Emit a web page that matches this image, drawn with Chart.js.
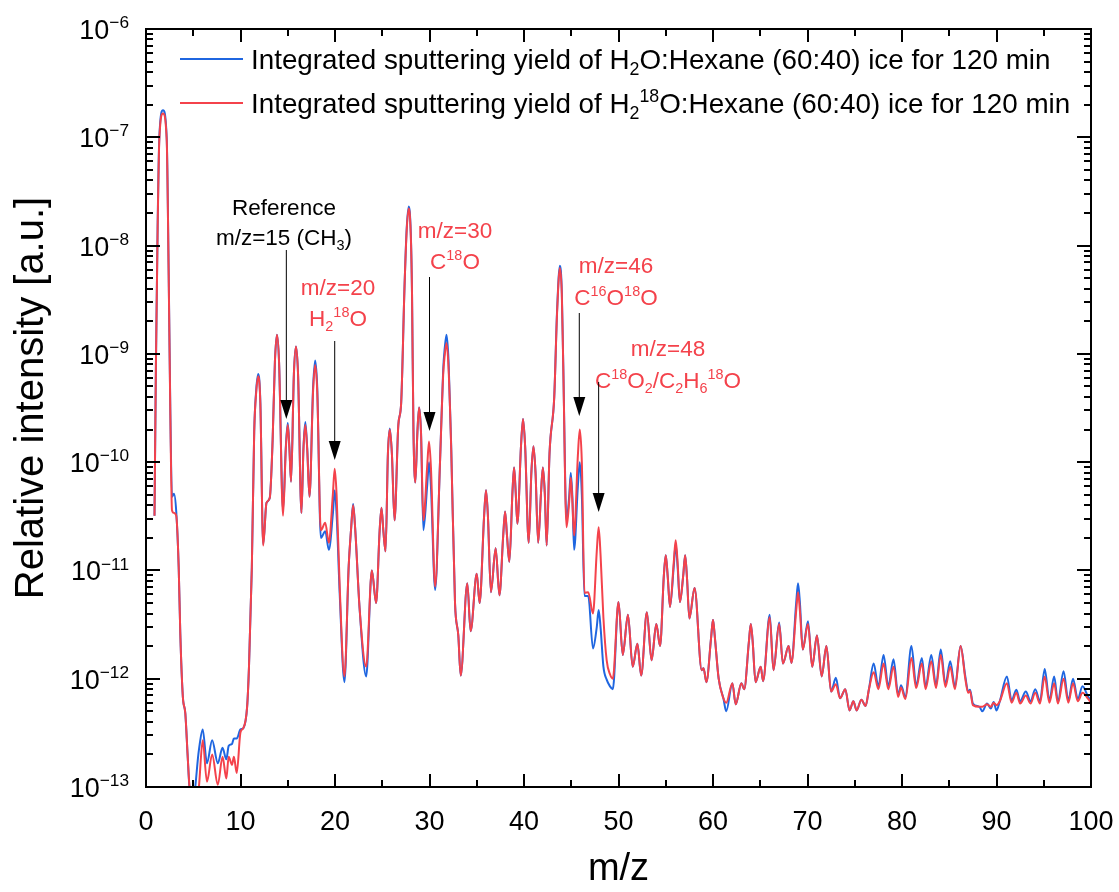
<!DOCTYPE html>
<html><head><meta charset="utf-8">
<script src="https://cdn.jsdelivr.net/npm/chart.js@4.4.1/dist/chart.umd.min.js"></script>
<style>html,body{margin:0;padding:0;background:#fff}canvas{display:block}</style>
</head><body>
<canvas id="c" width="1119" height="892"></canvas>
<script>
// m/z positions (shared by both spectra)
const mz = [
 0.9,1.05,1.23,1.41,1.8,2.19,2.4,2.57,2.75,2.96,
 3.2,3.46,3.63,3.9,4.16,4.4,4.6,5.0,5.6,6.0,
 6.45,7.0,7.6,8.1,8.5,8.75,9.1,9.3,9.6,10.0,
 10.3,10.7,10.9,11.2,11.45,11.66,11.88,12.1,12.4,12.75,
 13.1,13.4,13.64,13.86,14.08,14.5,14.8,15.0,15.17,15.35,
 15.65,15.87,16.09,16.45,16.66,16.86,17.06,17.3,17.68,17.9,
 18.12,18.5,18.97,19.35,19.77,19.97,20.17,20.5,21.0,21.45,
 21.7,21.92,22.14,22.6,23.3,23.9,24.35,24.72,24.92,25.12,
 25.35,25.6,25.8,26.02,26.3,26.7,27.0,27.35,27.58,27.8,
 28.02,28.15,28.3,28.5,28.72,28.9,29.1,29.35,29.75,29.95,
 30.15,30.6,31.1,31.45,31.6,31.8,32.02,32.3,32.7,33.05,
 33.3,34.0,34.35,35.0,35.3,35.78,35.98,36.18,36.5,37.0,
 37.4,37.8,38.0,38.2,38.45,38.78,38.95,39.12,39.3,39.68,
 39.9,40.12,40.5,40.78,41.0,41.22,41.5,41.8,42.0,42.2,
 42.4,42.7,43.2,43.5,43.8,44.0,44.15,44.5,44.78,44.95,
 45.12,45.3,45.7,45.9,46.12,46.4,46.8,47.3,47.7,47.9,
 48.1,48.4,48.75,49.1,49.4,50.0,50.45,51.0,51.5,52.0,
 52.4,53.0,53.5,54.0,54.4,54.8,55.0,55.2,55.45,55.85,
 56.05,56.25,56.5,56.85,57.05,57.25,57.5,58.05,58.8,59.0,
 59.3,59.8,60.0,60.2,60.6,61.1,61.4,62.05,62.4,63.0,
 63.3,63.8,64.0,64.2,64.5,65.05,65.3,66.0,66.4,67.0,
 67.4,68.0,68.3,68.8,69.0,69.2,69.5,70.05,70.5,71.0,
 71.5,72.0,72.5,73.0,73.45,74.0,74.45,74.85,75.2,75.7,
 76.15,76.5,77.0,77.5,78.05,78.55,79.1,79.6,79.9,80.35,
 81.0,81.5,82.1,82.5,83.1,83.6,84.1,84.6,85.1,85.6,
 86.2,86.7,87.0,87.2,87.5,88.2,88.5,89.0,89.4,89.7,
 90.0,90.35,91.1,91.6,92.1,92.5,93.1,93.6,94.1,94.6,
 95.1,95.6,96.1,96.5,97.1,97.6,98.1,98.6,99.1,99.7,
 100
];
// H2O:Hexane (60:40) ice, blue
const yieldH2O = [
 3.2e-11,8e-10,1.5e-8,1.0e-7,1.78e-7,1.0e-7,5.6e-9,3.2e-10,4.8e-11,5.1e-11,
 3.5e-11,1.07e-11,2.6e-12,6.8e-13,4.8e-13,2.0e-13,1.0e-13,8e-14,2.2e-13,3.4e-13,
 1.66e-13,2.7e-13,1.66e-13,2.3e-13,1.8e-13,2.4e-13,2.5e-13,2.8e-13,2.8e-13,3.4e-13,
 3.5e-13,5.5e-13,1.3e-12,1.07e-11,1.9e-10,4.6e-10,6.5e-10,3.6e-10,1.75e-11,4.2e-11,
 4.7e-11,1.6e-10,8.4e-10,1.5e-9,8.4e-10,3.6e-11,1.4e-10,2.3e-10,1.4e-10,6.6e-11,
 6.5e-10,1.17e-9,6.5e-10,3.4e-11,1.35e-10,2.35e-10,1.35e-10,4.8e-11,4.9e-10,8.7e-10,
 4.9e-10,2.0e-11,2.3e-11,1.55e-11,3.3e-11,5.5e-11,3.3e-11,6e-12,9.3e-13,1.1e-11,
 2.4e-11,4.1e-11,2.4e-11,4.5e-12,1.05e-12,1.0e-11,5e-12,2.3e-11,3.8e-11,2.3e-11,
 1.5e-11,1.2e-10,2.05e-10,1.2e-10,2.9e-11,2.2e-10,3.5e-10,4e-9,1.4e-8,2.3e-8,
 1.3e-8,3.6e-9,2e-10,6.5e-11,1.9e-10,3.2e-10,1.9e-10,2.35e-11,6e-11,1.0e-10,
 6e-11,6.6e-12,9.3e-11,7.2e-10,1.1e-9,1.5e-9,8.5e-10,1.35e-10,5e-12,2.5e-12,
 1.07e-12,7.6e-12,2.75e-12,9.3e-12,5e-12,3.2e-11,5.5e-11,3.2e-11,6.3e-12,1.6e-11,
 5.9e-12,2.1e-11,3.5e-11,2.1e-11,1.2e-11,5.3e-11,8.9e-11,5.3e-11,2.7e-11,1.4e-10,
 2.5e-10,1.4e-10,1.8e-11,8e-11,1.4e-10,8e-11,1.8e-11,5.2e-11,8.9e-11,5.2e-11,
 1.7e-11,1.2e-10,4e-10,2.5e-9,6.5e-9,3.8e-9,8.3e-10,2.9e-11,4.8e-11,8e-11,
 4.8e-11,1.55e-11,6e-11,1.0e-10,5e-11,5.8e-12,5.8e-12,1.9e-12,3e-12,4.3e-12,
 3e-12,1.3e-12,9.8e-13,8.5e-13,8e-13,5.1e-12,1.66e-12,3.9e-12,1.29e-12,2.1e-12,
 1.07e-12,4.1e-12,1.48e-12,3.2e-12,2.0e-12,9e-12,1.38e-11,9e-12,4.6e-12,1.1e-11,
 1.75e-11,1.1e-11,5.1e-12,9e-12,1.38e-11,8.5e-12,3.6e-12,6.9e-12,1.2e-12,1.25e-12,
 9.3e-13,2.4e-12,3.5e-12,2.4e-12,1.0e-12,6.6e-13,5e-13,9.1e-13,5.8e-13,9.1e-13,
 8e-13,2.2e-12,3.2e-12,2.2e-12,9.3e-13,1.29e-12,9.5e-13,3.9e-12,1.2e-12,3.3e-12,
 1.38e-12,2.0e-12,1.4e-12,5e-12,7.6e-12,5e-12,1.86e-12,3.4e-12,1.29e-12,2.5e-12,
 1.05e-12,2.0e-12,7.6e-13,1.02e-12,6.6e-13,8e-13,5.1e-13,6.2e-13,5.1e-13,6.4e-13,
 5.6e-13,8e-13,1.38e-12,8.5e-13,1.66e-12,8.5e-13,1.51e-12,7.1e-13,8.7e-13,6.8e-13,
 2.0e-12,8.7e-13,1.55e-12,8.5e-13,1.66e-12,8.7e-13,1.86e-12,8.9e-13,1.45e-12,8.5e-13,
 2.0e-12,1.05e-12,7.6e-13,7.9e-13,5.9e-13,5.5e-13,5.0e-13,5.9e-13,5.3e-13,6.1e-13,
 5.1e-13,6.2e-13,1.05e-12,6.3e-13,7.9e-13,6.2e-13,7.6e-13,6.2e-13,8.0e-13,6.2e-13,
 1.23e-12,6.3e-13,1.05e-12,6.2e-13,1.17e-12,6.3e-13,1.0e-12,6.5e-13,8.5e-13,6.8e-13,
 6.3e-13
];
// H2(18)O:Hexane (60:40) ice, red
const yieldH218O = [
 3.2e-11,8e-10,1.4e-8,9.5e-8,1.66e-7,9.5e-8,5.3e-9,3.0e-10,3.6e-11,3.4e-11,
 3.2e-11,1.07e-11,2.6e-12,6.8e-13,4.8e-13,2.0e-13,1.0e-13,4e-14,1.0e-13,2.7e-13,
 1.12e-13,2.0e-13,1.05e-13,1.9e-13,1.2e-13,1.9e-13,1.6e-13,1.9e-13,1.35e-13,3.2e-13,
 3.5e-13,5.5e-13,1.3e-12,1.07e-11,1.9e-10,4.4e-10,6.2e-10,3.5e-10,1.7e-11,4.2e-11,
 4.7e-11,1.6e-10,8.4e-10,1.5e-9,8.4e-10,3.2e-11,1.35e-10,2.2e-10,1.35e-10,6.6e-11,
 6.5e-10,1.17e-9,6.5e-10,3.4e-11,1.3e-10,2.2e-10,1.3e-10,4.8e-11,4.5e-10,7.9e-10,
 4.5e-10,2.35e-11,2.75e-11,1.8e-11,5e-11,8.7e-11,5e-11,7e-12,1.05e-12,1.1e-11,
 2.4e-11,4.0e-11,2.4e-11,4.5e-12,1.29e-12,1.0e-11,5e-12,2.3e-11,3.8e-11,2.3e-11,
 1.5e-11,1.2e-10,2.0e-10,1.2e-10,2.9e-11,2.2e-10,3.5e-10,4e-9,1.35e-8,2.2e-8,
 1.25e-8,3.6e-9,2e-10,6.5e-11,1.9e-10,3.2e-10,1.9e-10,2.9e-11,9e-11,1.55e-10,
 9e-11,7.1e-12,9.3e-11,6.5e-10,9.5e-10,1.26e-9,7.2e-10,1.3e-10,5e-12,2.5e-12,
 1.07e-12,7.6e-12,2.75e-12,9.3e-12,5e-12,3.2e-11,5.5e-11,3.2e-11,6.3e-12,1.6e-11,
 5.9e-12,2.1e-11,3.5e-11,2.1e-11,1.2e-11,5.3e-11,8.9e-11,5.3e-11,2.7e-11,1.4e-10,
 2.5e-10,1.4e-10,1.8e-11,8e-11,1.4e-10,8e-11,1.8e-11,5.2e-11,8.9e-11,5.2e-11,
 1.7e-11,1.2e-10,4e-10,2.4e-9,6.2e-9,3.6e-9,8e-10,2.5e-11,4.3e-11,7.2e-11,
 4.3e-11,2.1e-11,1.15e-10,2.0e-10,1.0e-10,6.2e-12,6.3e-12,4e-12,1.5e-11,2.5e-11,
 1.4e-11,3.7e-12,1.48e-12,1.1e-12,1e-12,5.1e-12,1.66e-12,3.9e-12,1.29e-12,2.1e-12,
 1.07e-12,4.1e-12,1.48e-12,3.2e-12,2.0e-12,9e-12,1.38e-11,9e-12,4.6e-12,1.2e-11,
 1.9e-11,1.2e-11,5.1e-12,9e-12,1.38e-11,8.5e-12,3.6e-12,6.9e-12,1.2e-12,1.25e-12,
 9.3e-13,2.4e-12,3.5e-12,2.4e-12,1.0e-12,6.6e-13,6e-13,9.1e-13,5.8e-13,9.1e-13,
 8e-13,2.2e-12,3.2e-12,2.2e-12,9.3e-13,1.29e-12,9.5e-13,3.7e-12,1.2e-12,3.2e-12,
 1.38e-12,2.0e-12,1.4e-12,4.2e-12,6.3e-12,4.2e-12,1.86e-12,3.2e-12,1.29e-12,2.5e-12,
 1.05e-12,2.0e-12,7.6e-13,8.9e-13,6.6e-13,8e-13,5.1e-13,6.2e-13,5.1e-13,6.4e-13,
 5.6e-13,8e-13,1.15e-12,8e-13,1.38e-12,8e-13,1.29e-12,6.8e-13,8.3e-13,6.5e-13,
 1.55e-12,8.2e-13,1.38e-12,8e-13,1.45e-12,8.2e-13,1.66e-12,8.4e-13,1.29e-12,8e-13,
 2.0e-12,1.0e-12,7.4e-13,7.7e-13,5.7e-13,5.5e-13,5.5e-13,5.8e-13,5.5e-13,6.0e-13,
 5.7e-13,6.2e-13,9.1e-13,6.0e-13,7.4e-13,5.9e-13,7.0e-13,5.9e-13,7.4e-13,5.9e-13,
 1.05e-12,6.0e-13,9.1e-13,5.9e-13,1.0e-12,6.0e-13,9.1e-13,6.2e-13,7.4e-13,6.5e-13,
 6.0e-13
];
const xTickLabels = [0,10,20,30,40,50,60,70,80,90,100];
const yExponents = [-13,-12,-11,-10,-9,-8,-7,-6];

const BLUE = '#1f66e0', RED = '#f4424b';
const FONT = '"Liberation Sans", Arial, sans-serif';

function rich(ctx, parts, x, yBase, size, align, color){
  const small = size*0.64;
  const seg = parts.map(([t,m]) => { const s = m ? small : size; ctx.font = s + 'px ' + FONT; return {t, m, s, w: ctx.measureText(t).width}; });
  const total = seg.reduce((a,b)=>a+b.w, 0);
  let cx = align === 'center' ? x - total/2 : align === 'right' ? x - total : x;
  ctx.textAlign = 'left'; ctx.textBaseline = 'alphabetic'; ctx.fillStyle = color;
  for (const g of seg){
    ctx.font = g.s + 'px ' + FONT;
    const dy = g.m === 'sub' ? size*0.22 : g.m === 'sup' ? -size*0.40 : 0;
    ctx.fillText(g.t, cx, yBase + dy);
    cx += g.w;
  }
}

const legendRows = [
  {color: BLUE, y: 59, parts: [['Integrated sputtering yield of H',''],['2','sub'],['O:Hexane (60:40) ice for 120 min','']]},
  {color: RED,  y: 103, parts: [['Integrated sputtering yield of H',''],['2','sub'],['18','sup'],['O:Hexane (60:40) ice for 120 min','']]}
];
const notes = [
  {color:'#000', cx:284, y:215, parts:[['Reference','']]},
  {color:'#000', cx:284, y:245, parts:[['m/z=15 (CH',''],['3','sub'],[')','']]},
  {color:RED, cx:338, y:295, parts:[['m/z=20','']]},
  {color:RED, cx:338, y:326, parts:[['H',''],['2','sub'],['18','sup'],['O','']]},
  {color:RED, cx:455, y:238, parts:[['m/z=30','']]},
  {color:RED, cx:455, y:269, parts:[['C',''],['18','sup'],['O','']]},
  {color:RED, cx:616, y:273, parts:[['m/z=46','']]},
  {color:RED, cx:616, y:305, parts:[['C',''],['16','sup'],['O',''],['18','sup'],['O','']]},
  {color:RED, cx:668, y:356, parts:[['m/z=48','']]},
  {color:RED, cx:668, y:388, parts:[['C',''],['18','sup'],['O',''],['2','sub'],['/C',''],['2','sub'],['H',''],['6','sub'],['18','sup'],['O','']]}
];
const arrows = [
  {mz:14.85, top:250, tip:419},
  {mz:19.97, top:341, tip:460},
  {mz:30.0,  top:277, tip:431},
  {mz:45.85, top:313, tip:416},
  {mz:47.9,  top:382, tip:512}
];

const decor = {
  id: 'decor',
  afterDatasetsDraw(chart){
    const {ctx, chartArea: a, scales: {x, y}} = chart;
    ctx.save();
    ctx.strokeStyle = '#000'; ctx.lineWidth = 2; ctx.lineCap = 'butt';
    ctx.strokeRect(a.left, a.top, a.right - a.left, a.bottom - a.top);
    ctx.beginPath();
    for (let v = 0; v <= 100; v += 5){
      const px = Math.round(x.getPixelForValue(v));
      const len = v % 10 === 0 ? 13 : 7;
      ctx.moveTo(px, a.bottom); ctx.lineTo(px, a.bottom - len);
      ctx.moveTo(px, a.top); ctx.lineTo(px, a.top + len);
    }
    for (const e of yExponents){
      for (let m = 1; m <= 9; m++){
        if (e === -6 && m > 1) break;
        const py = Math.round(y.getPixelForValue(m * Math.pow(10, e)));
        const len = m === 1 ? 14 : 7;
        ctx.moveTo(a.left, py); ctx.lineTo(a.left + len, py);
        ctx.moveTo(a.right, py); ctx.lineTo(a.right - len, py);
      }
    }
    ctx.stroke();
    // tick labels
    ctx.fillStyle = '#000';
    ctx.font = '27px ' + FONT; ctx.textAlign = 'center'; ctx.textBaseline = 'alphabetic';
    for (const v of xTickLabels){ ctx.fillText(String(v), x.getPixelForValue(v), 830); }
    for (const e of yExponents){
      const py = y.getPixelForValue(Math.pow(10, e));
      rich(ctx, [['10',''],['\u2212' + Math.abs(e),'sup']], 129, py + 10, 27, 'right', '#000');
    }
    // axis titles
    ctx.fillStyle = '#000';
    ctx.font = '38px ' + FONT; ctx.textAlign = 'center'; ctx.textBaseline = 'middle';
    ctx.fillText('m/z', (a.left + a.right)/2, 870);
    ctx.save();
    ctx.font = '40px ' + FONT;
    ctx.translate(32, 398); ctx.rotate(-Math.PI/2);
    ctx.fillText('Relative intensity [a.u.]', 0, 0);
    ctx.restore();
    // legend
    for (const r of legendRows){
      ctx.strokeStyle = r.color; ctx.lineWidth = 2;
      ctx.beginPath(); ctx.moveTo(180, r.y); ctx.lineTo(243, r.y); ctx.stroke();
      rich(ctx, r.parts, 251, r.y + 10, 27.8, 'left', '#000');
    }
    // annotations
    for (const n of notes){ rich(ctx, n.parts, n.cx, n.y, 22.5, 'center', n.color); }
    for (const ar of arrows){
      const px = x.getPixelForValue(ar.mz);
      ctx.strokeStyle = '#000'; ctx.lineWidth = 1;
      ctx.beginPath(); ctx.moveTo(px, ar.top); ctx.lineTo(px, ar.tip - 18); ctx.stroke();
      ctx.fillStyle = '#000';
      ctx.beginPath(); ctx.moveTo(px - 6, ar.tip - 19); ctx.lineTo(px + 6, ar.tip - 19); ctx.lineTo(px, ar.tip); ctx.closePath(); ctx.fill();
    }
    ctx.restore();
  }
};

new Chart(document.getElementById('c'), {
  type: 'line',
  data: { datasets: [
    {label: 'H2 18O:Hexane', data: mz.map((m,i)=>({x:m, y:yieldH218O[i]})), borderColor: RED, borderWidth: 2, pointRadius: 0, cubicInterpolationMode: 'monotone', fill: false},
    {label: 'H2O:Hexane', data: mz.map((m,i)=>({x:m, y:yieldH2O[i]})), borderColor: BLUE, borderWidth: 2, pointRadius: 0, cubicInterpolationMode: 'monotone', fill: false}
  ]},
  options: {
    responsive: false, animation: false, devicePixelRatio: 1,
    layout: {padding: {left: 146, top: 29, right: 28, bottom: 105}},
    plugins: {legend: {display: false}, tooltip: {enabled: false}},
    scales: {
      x: {type: 'linear', min: 0, max: 100, display: false},
      y: {type: 'logarithmic', min: 1e-13, max: 1e-6, display: false}
    }
  },
  plugins: [decor]
});
</script>
</body></html>
